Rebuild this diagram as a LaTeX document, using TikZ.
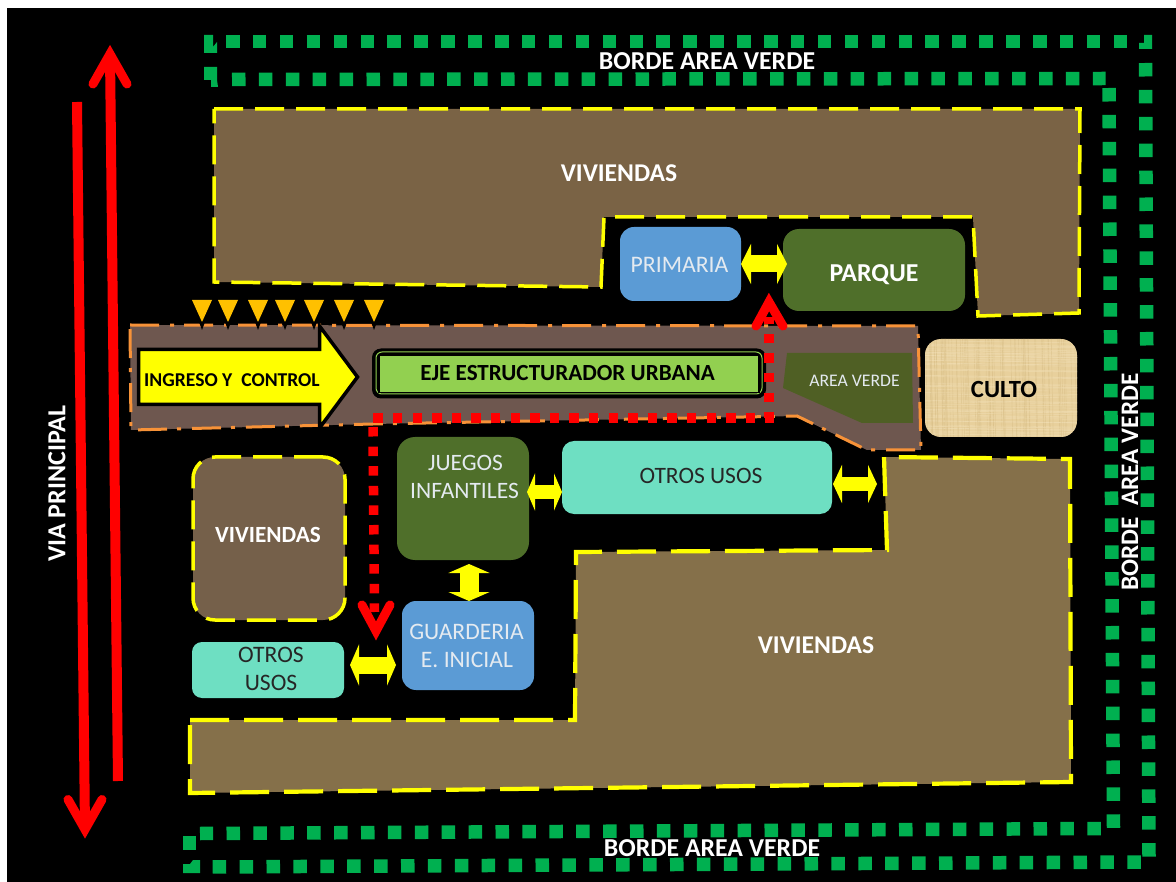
\documentclass[tikz,border=0pt]{standalone}
\usepackage{fontspec}
\setmainfont{Carlito}
\usetikzlibrary{arrows.meta}
\definecolor{lotA}{HTML}{7A6345}
\definecolor{lotB}{HTML}{75604A}
\definecolor{lotC}{HTML}{85704A}
\definecolor{roadc}{HTML}{6E574F}
\definecolor{orangec}{HTML}{F79238}
\definecolor{greenb}{HTML}{00B050}
\definecolor{parkc}{HTML}{4F6F2A}
\definecolor{areac}{HTML}{4F5F24}
\definecolor{limec}{HTML}{92D050}
\definecolor{bluec}{HTML}{5B9BD5}
\definecolor{tealc}{HTML}{6EDFC2}
\definecolor{cultoc}{HTML}{E8D09C}
\definecolor{cultod}{HTML}{D8BE86}
\definecolor{cultol}{HTML}{F0DDB2}
\definecolor{softw}{HTML}{E4EAF0}
\definecolor{ambertri}{HTML}{FFC000}
\definecolor{yel}{RGB}{255,255,0}
\definecolor{rd}{RGB}{255,0,0}
\tikzset{
  lotline/.style={draw=yel,line width=3.5pt,dash pattern=on 29pt off 12pt,line join=miter},
  lotlong/.style={draw=yel,line width=4.2pt,dash pattern=on 39pt off 15pt,line join=miter},
  roadline/.style={draw=orangec,line width=3pt,dash pattern=on 29pt off 11pt on 4pt off 10pt},
  gsq/.style={draw=greenb,line width=13.5pt,dash pattern=on 13.5pt off 13.4pt},
  gcorner/.style={fill=greenb},
  reddot/.style={draw=rd,line width=9.5pt,dash pattern=on 9.5pt off 10.1pt},
  redshaft/.style={draw=rd,line width=10pt},
  redhead/.style={draw=rd,line width=9pt,line cap=round,line join=miter,miter limit=20},
  dblarrow/.style n args={3}{draw=yel,line width=#1pt,{Triangle[length=#2pt,width=#3pt,fill=yel]}-{Triangle[length=#2pt,width=#3pt,fill=yel]}},
  box/.style={rounded corners=#1,inner sep=0pt,outer sep=0pt,align=center},
  box/.default=14pt,
  lbl/.style={inner sep=0pt,outer sep=0pt,align=center},
}
\newcommand{\fsz}[1]{\fontsize{#1}{#1}\selectfont}
\begin{document}
\begin{tikzpicture}[x=1pt,y=-1pt]
\useasboundingbox (0,0) rectangle (1176,882);
\fill[white] (0,0) rectangle (1176,882);
\fill[black] (7,8) rectangle (1176,882);

% green borders
\draw[gsq] (226,41.5) -- (1127,41.5);
\fill[gcorner] (204,35) -- (213,35) -- (213,47) -- (217,42) -- (217,53) -- (204,53) -- cycle;
\fill[gcorner] (1144,35) -- (1152,35) -- (1152,49) -- (1139,49) -- (1139,43) -- (1144,43) -- cycle;
\fill[gcorner] (204,67) -- (217,67) -- (217,80) -- (218,87) -- (211,87) -- (211,80) -- (204,80) -- cycle;
\draw[gsq] (1145.5,63) -- (1149,857);
\draw[gsq] (1140.8,862) -- (206.6,867);
\fill[gcorner] (183,864) -- (190,864) -- (193,860) -- (200,860) -- (200,873) -- (183,873) -- cycle;
\draw[gsq] (232,79.5) -- (1105.5,78.5);
\draw[gsq] (1109,88) -- (1113.5,828);
\draw[gsq] (1100.8,828.5) -- (200,833.5);
\fill[gcorner] (183,836) rectangle (196,850);

% lots
\path[fill=lotA] (214,109) -- (1080,109) -- (1079,313) -- (978,316) -- (973,217) -- (604,217) -- (601,287) -- (214,282) -- cycle;
\path[lotline] (214,109) -- (1080,109) -- (1079,313) -- (978,316) -- (973,217) -- (604,217) -- (601,287) -- (214,282) -- cycle;
\path[fill=lotC] (190,720) -- (575,720) -- (576,552) -- (887,550) -- (884,457) -- (1070,459) -- (1071,782) -- (190,793) -- cycle;
\path[lotlong] (190,720) -- (575,720) -- (576,552) -- (887,550) -- (884,457) -- (1070,459) -- (1071,782) -- (190,793) -- cycle;
\node[box=22pt,fill=lotB,lotline,minimum width=152pt,minimum height=163pt] (vivleft) at (269,538.5) {};

% road
\path[fill=roadc] (130,325) -- (918,326) -- (921,450) -- (867,450) -- (797,416) -- (373,424) -- (131,430) -- cycle;
\path[roadline] (130,325) -- (918,326) -- (921,450) -- (867,450) -- (797,416) -- (373,424) -- (131,430) -- cycle;

% area verde
\path[fill=areac] (787,353) -- (912,353) -- (913,423) -- (862,423) -- (783,388) -- cycle;
\node[lbl,text=softw,font=\fsz{17.7}] (areav) at (854.5,380.5) {AREA VERDE};

% boxes
\node[box=14pt,fill=bluec,minimum width=121pt,minimum height=74pt] (primaria) at (680.5,264) {};
\node[lbl,text=softw,font=\fsz{23.7}] (primarial) at (679.5,265) {PRIMARIA};
\node[box=16pt,fill=parkc,minimum width=182pt,minimum height=82pt] (parque) at (874,270) {};
\node[lbl,text=white,font=\fsz{25.8}\bfseries] (parquel) at (874,274.5) {PARQUE};
\node[box=16pt,fill=cultoc,minimum width=152pt,minimum height=98pt] (culto) at (1001,388) {};
\begin{scope}
  \clip[rounded corners=16pt] (925,339) rectangle (1077,437);
  \pgfmathsetseed{7}
  \foreach \ti in {1,...,70}{
    \pgfmathsetmacro{\ra}{925+152*rnd}
    \pgfmathsetmacro{\rb}{339+98*rnd}
    \draw[cultod,opacity=0.45,line width=0.7pt] (\ra,339) -- (\ra+2,437);
    \draw[cultol,opacity=0.5,line width=0.7pt] (925,\rb) -- (1077,\rb+2);
  }
\end{scope}
\node[lbl,text=black,font=\fsz{24.7}\bfseries] (cultol) at (1004,389.5) {CULTO};
\node[box=18pt,fill=parkc,minimum width=132pt,minimum height=123pt] (juegos) at (463,498.5) {};
\node[lbl,text=softw,font=\fsz{23.5}] (juegosl) at (465.5,462.5) {JUEGOS};
\node[lbl,text=softw,font=\fsz{23.5}] (juegosm) at (464.5,491) {INFANTILES};
\node[box=12pt,fill=tealc,minimum width=270pt,minimum height=73pt] (otros) at (697,477.5) {};
\node[lbl,text=black!85,font=\fsz{23.5}] (otrosl) at (701,475.5) {OTROS USOS};
\node[box=14pt,fill=bluec,minimum width=132pt,minimum height=89pt] (guarderia) at (468,645.5) {};
\node[lbl,text=softw,font=\fsz{23.6}] (guarderial) at (466.5,632) {GUARDERIA};
\node[lbl,text=softw,font=\fsz{23.6}] (guarderim) at (467,660) {E. INICIAL};
\node[box=10pt,fill=tealc,minimum width=152pt,minimum height=56pt] (otrosb) at (268,670) {};
\node[lbl,text=black!85,font=\fsz{23.6}] (otrosbl) at (271,655) {OTROS};
\node[lbl,text=black!85,font=\fsz{23.6}] (otrosbm) at (271,683) {USOS};

% eje
\node[box=9pt,fill=black,minimum width=394pt,minimum height=50pt] (ejeout) at (569,373.5) {};
\node[box=6pt,draw=limec,line width=1pt,minimum width=386pt,minimum height=42pt] (ejerim) at (569,373) {};
\node[fill=black,inner sep=0pt,outer sep=0pt,minimum width=382pt,minimum height=38pt] (ejegap) at (569,374) {};
\node[fill=limec,inner sep=0pt,outer sep=0pt,minimum width=378pt,minimum height=36pt] (eje) at (568.5,374) {};
\node[lbl,text=black,font=\fsz{23.1}\bfseries] (ejel) at (567.5,373) {EJE ESTRUCTURADOR URBANA};

% ingreso arrow
\path[fill=yel,draw=black,line width=3.5pt,miter limit=20] (138.5,349.5) -- (319.5,349.5) -- (319.5,326) -- (357.5,377) -- (319.5,428) -- (319.5,404.5) -- (138.5,404.5) -- cycle;
\node[lbl,text=black,font=\fsz{19.6}\bfseries] (ingreso) at (232,380.5) {INGRESO Y\ \ CONTROL};

% control triangles
\foreach \tx in {202,228,258,285,314,344,374}{
  \fill[ambertri] (\tx-10,300) -- (\tx+10,300) -- (\tx,322) -- cycle;
  \fill[black] (\tx-3,322) -- (\tx+3,322) -- (\tx,330) -- cycle;
}

% red dotted routes
\draw[reddot] (373.3,418) -- (769,418) -- (769,317);
\draw[reddot] (373,427) -- (374.5,612);
\coordinate (upapex) at (769,302);
\coordinate (downapex) at (376,631);
\draw[redhead] (upapex) ++(-13,24) -- (upapex) -- ++(14,24);
\draw[redhead] (downapex) ++(-14,-26) -- (downapex) -- ++(14,-26);

% yellow connectors
\coordinate (pa) at (primaria.east);
\path (parque.west |- primaria.east) ++(4,0) coordinate (pb);
\draw[dblarrow={17}{10}{40}] (pa) -- (pb);
\path (juegos.east |- 0,492) ++(-2,0) coordinate (ja);
\coordinate (jc) at (otros.west |- ja);
\draw[dblarrow={14}{8}{37}] (ja) -- (jc);
\path (otros.east |- 0,484) ++(1,0) coordinate (ob);
\coordinate (oc) at (877,484);
\draw[dblarrow={14}{9}{38}] (ob) -- (oc);
\path (juegos.south -| 469,0) ++(0,4) coordinate (jb);
\coordinate (gt) at (guarderia.north -| jb);
\draw[dblarrow={19}{9}{41}] (jb) -- (gt);
\path (otrosb.east |- 0,665) ++(6,0) coordinate (oa);
\path (guarderia.west |- oa) ++(-6,0) coordinate (gw);
\draw[dblarrow={17}{9}{41}] (oa) -- (gw);

% via principal
\coordinate (viaup) at (110,54);
\coordinate (viadown) at (85,829.5);
\draw[redshaft] (118,781) -- (viaup);
\draw[redshaft] (77,102) -- (viadown);
\draw[redhead] (viaup) ++(-17,30) -- (viaup) -- ++(17,30);
\draw[redhead] (viadown) ++(-17,-30) -- (viadown) -- ++(17,-30);

% labels
\node[lbl,text=white,font=\fsz{25.6}\bfseries] (vivtop) at (619,173) {VIVIENDAS};
\node[lbl,text=white,font=\fsz{23.2}\bfseries] (vivmid) at (268,535) {VIVIENDAS};
\node[lbl,text=white,font=\fsz{25.6}\bfseries] (vivbot) at (816,645) {VIVIENDAS};
\node[lbl,text=white,font=\fsz{26}\bfseries,rotate=90] (via) at (57,484) {VIA PRINCIPAL};
\node[lbl,text=white,font=\fsz{25.8}\bfseries] (bordet) at (707,61.5) {BORDE AREA VERDE};
\node[lbl,text=white,font=\fsz{25.8}\bfseries] (bordeb) at (712,848.5) {BORDE AREA VERDE};
\node[lbl,text=white,font=\fsz{25.2}\bfseries,rotate=90] (border) at (1130,482) {BORDE\ \ AREA VERDE};
\end{tikzpicture}
\end{document}
